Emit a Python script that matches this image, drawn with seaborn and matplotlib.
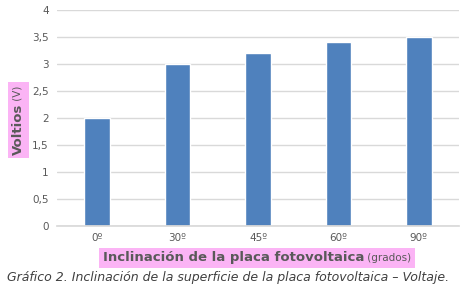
import matplotlib
matplotlib.use("Agg")
import matplotlib.pyplot as plt
import seaborn as sns
import pandas as pd
from matplotlib.patches import Rectangle

categories = ["0º", "30º", "45º", "60º", "90º"]
values = [2.0, 3.0, 3.2, 3.4, 3.5]
yticks = [0, 0.5, 1, 1.5, 2, 2.5, 3, 3.5, 4]
ytick_labels = ["0", "0,5", "1", "1,5", "2", "2,5", "3", "3,5", "4"]

sns.set_theme(style="white")
plt.rcParams['font.family'] = ['DejaVu Sans']

W, H = 471, 288
fig = plt.figure(figsize=(W/100, H/100), dpi=100)
ax = fig.add_axes([57/W, 1-226/H, (459-57)/W, (226-10)/H])

df = pd.DataFrame({"cat": categories, "val": values})
sns.barplot(data=df, x="cat", y="val", ax=ax, color="#4f81bd", saturation=1, width=0.32)

ax.set_ylim(0, 4)
ax.set_xlim(-0.5, 4.5)
ax.set_yticks(yticks)
ax.set_yticklabels(ytick_labels)
ax.yaxis.grid(True, color="#d9d9d9", linewidth=1)
ax.set_axisbelow(True)
for s in ["left", "right", "top"]:
    ax.spines[s].set_visible(False)
ax.spines["bottom"].set_color("#d9d9d9")
ax.tick_params(axis="both", length=0, labelsize=7.5, labelcolor="#595959", pad=6)
ax.tick_params(axis="x", pad=5)
ax.set_xlabel("")
ax.set_ylabel("")

pink = "#fbb4f5"
fig.canvas.draw()
r = fig.canvas.get_renderer()

# x label
t1 = fig.text(0, 1-258/H, "Inclinación de la placa fotovoltaica", fontsize=9.5, fontweight="bold",
              color="#595959", va="center", ha="left", zorder=3)
t2 = fig.text(0, 1-258/H, " (grados)", fontsize=7.5, color="#595959", va="center", ha="left", zorder=3)
w1 = t1.get_window_extent(r).width
w2 = t2.get_window_extent(r).width
x0 = 257 - (w1 + w2)/2
t1.set_x(x0/W)
t2.set_x((x0 + w1)/W)
fig.patches.append(Rectangle(((x0-4)/W, 1-268/H), (w1+w2+8)/W, 20/H, transform=fig.transFigure,
                             facecolor=pink, edgecolor="none", zorder=0))

# y label
yc = 120
s1 = fig.text(18/W, 0, "Voltios", fontsize=9.5, fontweight="bold", color="#595959",
              rotation=90, va="bottom", ha="center", zorder=3)
s2 = fig.text(18/W, 0, " (V)", fontsize=7.5, color="#595959", rotation=90, va="bottom", ha="center", zorder=3)
h1 = s1.get_window_extent(r).height
h2 = s2.get_window_extent(r).height
y0 = (H - yc) - (h1 + h2)/2
s1.set_y(y0/H)
s2.set_y((y0 + h1)/H)
fig.patches.append(Rectangle((8/W, (y0-3)/H), 21/W, (h1+h2+6)/H, transform=fig.transFigure,
                             facecolor=pink, edgecolor="none", zorder=0))

fig.text(228/W, 1-278/H, "Gráfico 2. Inclinación de la superficie de la placa fotovoltaica – Voltaje.",
         fontsize=9.0, style="italic", color="#404040", ha="center", va="center")

fig.savefig("out.png", dpi=100)
